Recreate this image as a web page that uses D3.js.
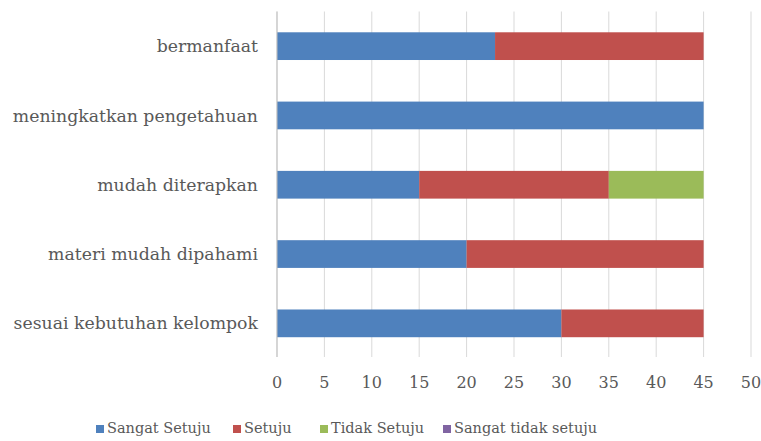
<!DOCTYPE html>
<html><head><meta charset="utf-8">
<script src="https://cdn.jsdelivr.net/npm/d3@7"></script>
<style>body{margin:0;background:#fff}svg{display:block}</style>
</head><body><svg id="c" width="761" height="441"></svg>
<script>
const categories = ["bermanfaat","meningkatkan pengetahuan","mudah diterapkan","materi mudah dipahami","sesuai kebutuhan kelompok"];
const seriesNames = ["Sangat Setuju","Setuju","Tidak Setuju","Sangat tidak setuju"];
const sangatSetuju = [23,45,15,20,30];
const setuju = [22,0,20,25,15];
const tidakSetuju = [0,0,10,0,0];
const sangatTidakSetuju = [0,0,0,0,0];
const xTicks = [0,5,10,15,20,25,30,35,40,45,50];
const colors = ["#4f81bd","#c0504d","#9bbb59","#8064a2"];

const svg = d3.select("#c");
const font = "'DejaVu Serif', serif";
const x = d3.scaleLinear().domain([0,50]).range([277,751]);
const y = d3.scaleBand().domain(categories).range([11.5,358]).paddingInner(0.6).paddingOuter(0.3);

const rows = categories.map((c,i)=>({cat:c, "Sangat Setuju":sangatSetuju[i], "Setuju":setuju[i], "Tidak Setuju":tidakSetuju[i], "Sangat tidak setuju":sangatTidakSetuju[i]}));
const stacked = d3.stack().keys(seriesNames)(rows);

svg.append("g").selectAll("line").data(xTicks).join("line")
  .attr("x1",d=>x(d)).attr("x2",d=>x(d)).attr("y1",11.5).attr("y2",357)
  .attr("stroke","#d9d9d9").attr("stroke-width",1);

svg.append("g").selectAll("g").data(stacked).join("g").attr("fill",(d,i)=>colors[i])
  .selectAll("rect").data(d=>d).join("rect")
  .attr("x",d=>x(d[0])).attr("width",d=>x(d[1])-x(d[0]))
  .attr("y",d=>y(d.data.cat)).attr("height",y.bandwidth());

svg.append("line").attr("x1",x(0)).attr("x2",x(0)).attr("y1",11.5).attr("y2",357)
  .attr("stroke","#bfbfbf");

svg.append("g").selectAll("text").data(categories).join("text")
  .attr("x",258).attr("y",d=>y(d)+y.bandwidth()/2).attr("dy","0.35em")
  .attr("text-anchor","end").attr("font-family",font).attr("font-size",17.3).attr("fill","#595959")
  .text(d=>d);

svg.append("g").selectAll("text").data(xTicks).join("text")
  .attr("x",d=>x(d)).attr("y",388).attr("text-anchor","middle")
  .attr("font-family",font).attr("font-size",16).attr("fill","#595959").text(d=>d);

const legX = [96,233,320,443];
const lg = svg.append("g").selectAll("g").data(seriesNames).join("g")
  .attr("transform",(d,i)=>`translate(${legX[i]},433)`);
lg.append("rect").attr("x",0).attr("y",-8).attr("width",8).attr("height",8).attr("fill",(d,i)=>colors[i]);
lg.append("text").attr("x",11).attr("font-family",font).attr("font-size",14.5)
  .attr("fill","#595959").text(d=>d);
</script></body></html>
